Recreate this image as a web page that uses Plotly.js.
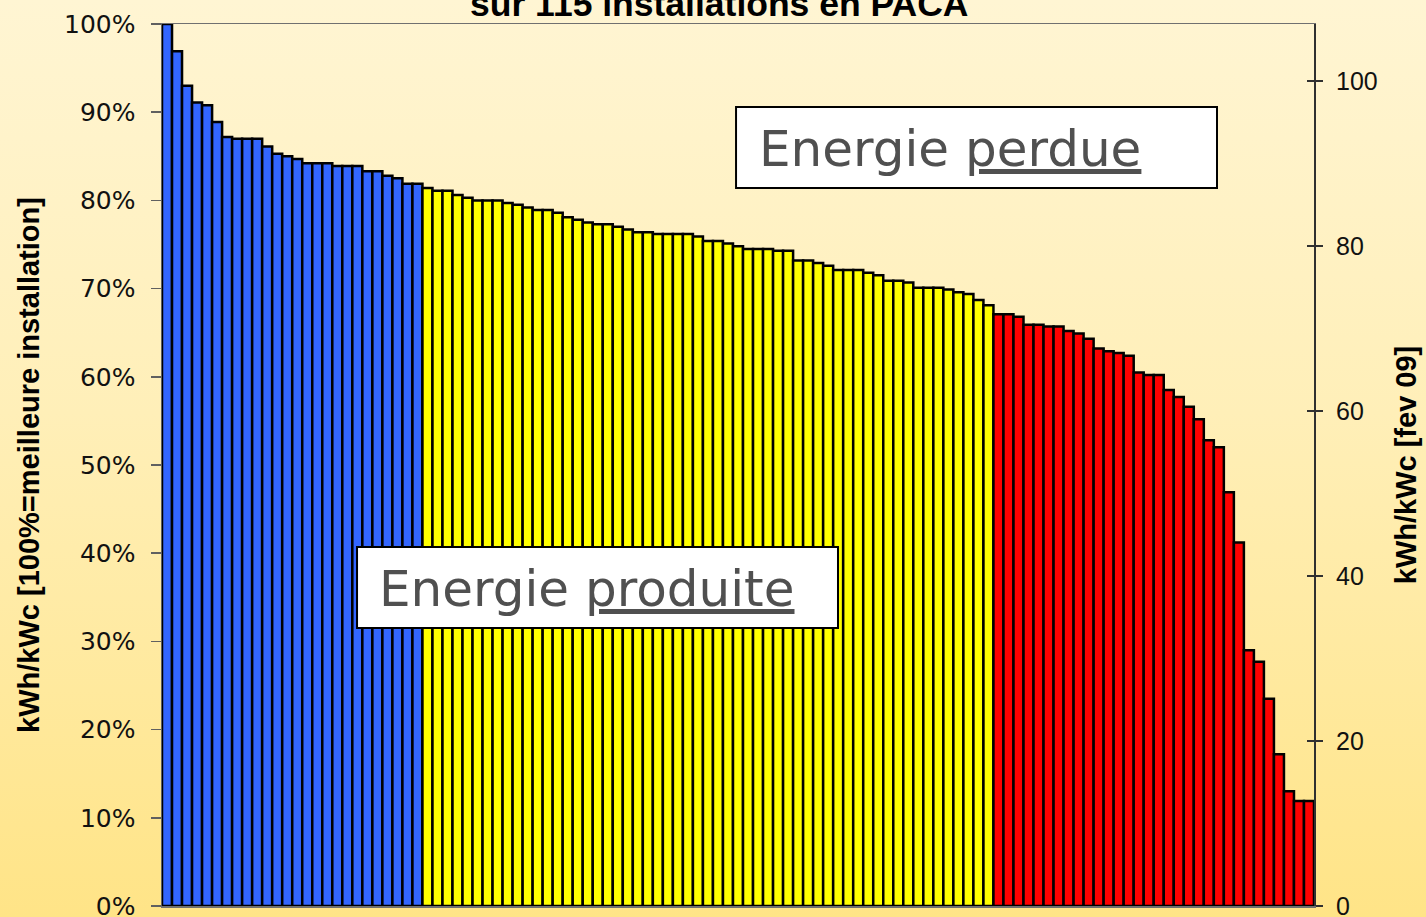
<!DOCTYPE html>
<html>
<head>
<meta charset="utf-8">
<script src="https://cdn.plot.ly/plotly-3.0.1.min.js"></script>
<style>
  html, body { margin: 0; padding: 0; }
  body { width: 1426px; height: 917px; overflow: hidden;
         background: linear-gradient(to bottom, #FFF5D3 0%, #FFEFB8 45%, #FFE487 100%); }
  #chart { width: 1426px; height: 917px; }
</style>
</head>
<body>
<div id="chart"></div>
<script>
// Performance relative to the best installation (%), sorted, 115 installations
const blueValues = [100, 96.9, 93.0, 91.1, 90.8, 88.9, 87.2, 87.0, 87.0, 87.0, 86.1, 85.3, 85.0,
  84.7, 84.2, 84.2, 84.2, 83.9, 83.9, 83.9, 83.3, 83.3, 82.8, 82.5, 81.9, 81.9];
const yellowValues = [81.4, 81.1, 81.1, 80.6, 80.3, 80.0, 80.0, 80.0, 79.7, 79.5, 79.2, 78.9, 78.9,
  78.6, 78.1, 77.8, 77.5, 77.3, 77.3, 77.0, 76.7, 76.4, 76.4, 76.2, 76.2, 76.2, 76.2, 75.9, 75.4,
  75.4, 75.1, 74.8, 74.5, 74.5, 74.5, 74.3, 74.3, 73.2, 73.2, 72.9, 72.6, 72.1, 72.1, 72.1, 71.8,
  71.5, 70.9, 70.9, 70.7, 70.1, 70.1, 70.1, 69.9, 69.6, 69.4, 68.7, 68.1];
const redValues = [67.1, 67.1, 66.8, 65.9, 65.9, 65.7, 65.7, 65.2, 64.9, 64.3, 63.2, 62.9, 62.7,
  62.4, 60.5, 60.2, 60.2, 58.5, 57.7, 56.6, 55.2, 52.8, 52.0, 46.9, 41.2, 29.0, 27.7, 23.5, 17.2,
  13.0, 11.9, 11.9];
const leftTickVals = [0, 10, 20, 30, 40, 50, 60, 70, 80, 90, 100];
const rightTickVals = [0, 20, 40, 60, 80, 100];
const kwhMax = 106.9; // kWh/kWc of the best installation (100%)

const titleText = 'sur 115 installations en PACA';
const leftTitle = 'kWh/kWc [100%=meilleure installation]';
const rightTitle = 'kWh/kWc [fev 09]';
const labelPerdue = 'Energie <u>perdue</u>';
const labelProduite = 'Energie <u>produite</u>';

const idx = (start, n) => Array.from({length: n}, (_, i) => start + i + 1);
const xBlue = idx(0, blueValues.length);
const xYellow = idx(blueValues.length, yellowValues.length);
const xRed = idx(blueValues.length + yellowValues.length, redValues.length);
const allX = xBlue.concat(xYellow, xRed);
const allKwh = blueValues.concat(yellowValues, redValues).map(v => v * kwhMax / 100);

const barLine = {color: '#000000', width: 2.5};
const ghost = (ax) => ({type: 'scatter', mode: 'markers', x: allX, y: allKwh, yaxis: ax,
                        marker: {opacity: 0}, hoverinfo: 'skip'});
const traces = [
  {type: 'bar', x: xBlue, y: blueValues, marker: {color: '#3366FF', line: barLine}, hoverinfo: 'skip'},
  {type: 'bar', x: xYellow, y: yellowValues, marker: {color: '#FFFF00', line: barLine}, hoverinfo: 'skip'},
  {type: 'bar', x: xRed, y: redValues, marker: {color: '#FF0000', line: barLine}, hoverinfo: 'skip'},
  ghost('y2'), ghost('y3'), ghost('y4')
];

const n = allX.length;
const rightFont = {family: 'Liberation Sans, Arial, sans-serif', size: 25, color: '#111111'};
const layout = {
  width: 1426, height: 917,
  margin: {l: 162, r: 112, t: 24, b: 11, pad: 0},
  paper_bgcolor: 'rgba(0,0,0,0)',
  plot_bgcolor: 'rgba(0,0,0,0)',
  showlegend: false,
  barmode: 'overlay',
  bargap: 0,
  xaxis: {
    range: [0.5, n + 0.5], showticklabels: false, ticks: '', showgrid: false, zeroline: false,
    showline: true, mirror: true, linecolor: '#707070', linewidth: 1.5
  },
  yaxis: {
    range: [0, 100], tickvals: leftTickVals, ticktext: leftTickVals.map(v => v + '%'),
    ticks: 'outside', ticklen: 10, tickcolor: '#606060', tickwidth: 1.5,
    showgrid: false, zeroline: false, showline: true, linecolor: '#606060', linewidth: 1.5,
    tickfont: {family: 'DejaVu Sans, Verdana, sans-serif', size: 25, color: '#111111'},
    ticklabelstandoff: 10, ticklabeloverflow: 'allow',
    title: {text: leftTitle, standoff: 16,
            font: {family: 'Liberation Sans, Arial, sans-serif', size: 29, color: '#000000', weight: 'bold'}}
  },
  // labels of the right axis (transparent long ticks push labels away from the axis)
  yaxis2: {
    overlaying: 'y', side: 'right', range: [0, kwhMax], tickvals: rightTickVals,
    ticks: 'outside', ticklen: 16, tickcolor: 'rgba(0,0,0,0)',
    showgrid: false, zeroline: false, showline: false,
    tickfont: rightFont, ticklabeloverflow: 'allow',
    title: {text: rightTitle, standoff: 18,
            font: {family: 'Liberation Sans, Arial, sans-serif', size: 29, color: '#000000', weight: 'bold'}}
  },
  // right axis line + outer half of crossing ticks
  yaxis3: {
    overlaying: 'y', side: 'right', range: [0, kwhMax], tickvals: rightTickVals,
    ticks: 'outside', ticklen: 7, tickcolor: '#303030', tickwidth: 1.5,
    showticklabels: false, showgrid: false, zeroline: false,
    showline: true, linecolor: '#303030', linewidth: 2
  },
  // inner half of crossing ticks
  yaxis4: {
    overlaying: 'y', side: 'right', range: [0, kwhMax], tickvals: rightTickVals,
    ticks: 'inside', ticklen: 7, tickcolor: '#303030', tickwidth: 1.5,
    showticklabels: false, showgrid: false, zeroline: false, showline: false
  },
  shapes: [
    {type: 'rect', xref: 'paper', yref: 'paper', x0: 0.4983, x1: 0.9158, y0: 0.8141, y1: 0.9059,
     fillcolor: '#FFFFFF', line: {color: '#000000', width: 2}},
    {type: 'rect', xref: 'paper', yref: 'paper', x0: 0.1693, x1: 0.5868, y0: 0.3152, y1: 0.4070,
     fillcolor: '#FFFFFF', line: {color: '#000000', width: 2}}
  ],
  annotations: [
    {text: titleText, xref: 'paper', yref: 'paper', x: 0.4835, y: 1, xanchor: 'center', yanchor: 'bottom',
     yshift: -2, showarrow: false,
     font: {family: 'Liberation Sans, Arial, sans-serif', size: 35.5, color: '#000000', weight: 'bold'}},
    {text: labelPerdue, xref: 'paper', yref: 'paper', x: 0.5165, y: 0.8583, xanchor: 'left', yanchor: 'middle',
     showarrow: false, font: {family: 'DejaVu Sans, Verdana, sans-serif', size: 50, color: '#505050'}},
    {text: labelProduite, xref: 'paper', yref: 'paper', x: 0.1868, y: 0.3594, xanchor: 'left', yanchor: 'middle',
     showarrow: false, font: {family: 'DejaVu Sans, Verdana, sans-serif', size: 50, color: '#505050'}}
  ]
};

Plotly.newPlot('chart', traces, layout, {displayModeBar: false, staticPlot: true});
</script>
</body>
</html>
